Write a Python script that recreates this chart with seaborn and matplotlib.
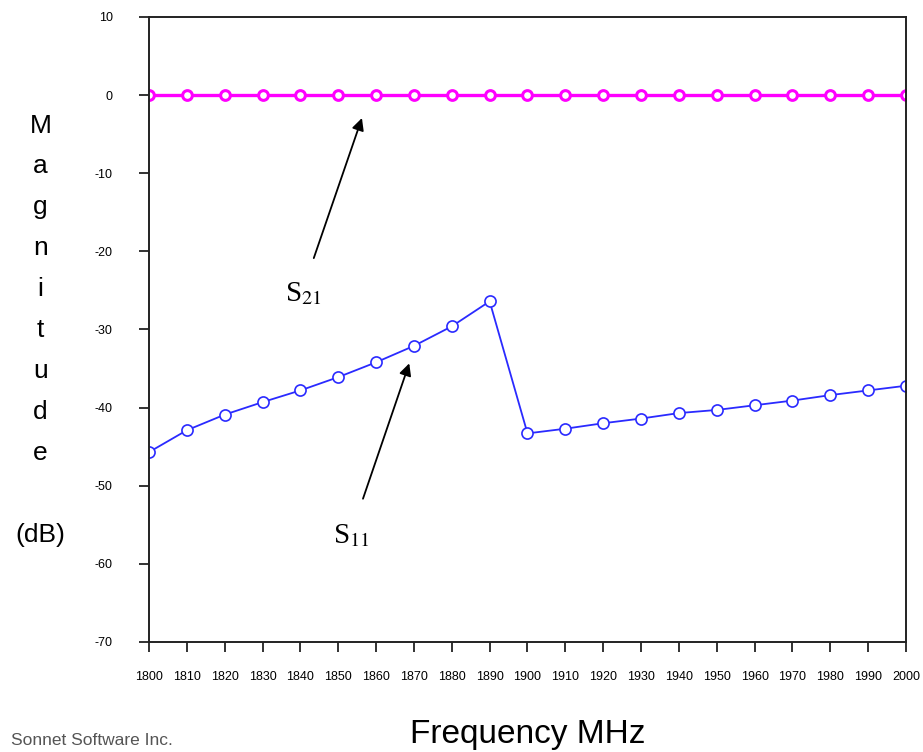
import pandas as pd
import matplotlib.pyplot as plt
import seaborn as sns

# frequency sweep (MHz)
freq = [1800, 1810, 1820, 1830, 1840, 1850, 1860, 1870, 1880, 1890, 1900,
        1910, 1920, 1930, 1940, 1950, 1960, 1970, 1980, 1990, 2000]

# S11 magnitude (dB)
s11 = [-45.7, -42.9, -40.9, -39.3, -37.8, -36.1, -34.2, -32.1, -29.6, -26.4, -43.3,
       -42.7, -42.0, -41.4, -40.7, -40.3, -39.7, -39.1, -38.4, -37.8, -37.2]

# S21 magnitude (dB)
s21 = [0.0, 0.0, 0.0, 0.0, 0.0, 0.0, 0.0, 0.0, 0.0, 0.0, 0.0,
       0.0, 0.0, 0.0, 0.0, 0.0, 0.0, 0.0, 0.0, 0.0, 0.0]

yticks = [10, 0, -10, -20, -30, -40, -50, -60, -70]

df = pd.DataFrame({"freq": freq, "S11": s11, "S21": s21})

sns.set_style("white")
plt.rcParams["font.family"] = ["Liberation Sans", "DejaVu Sans"]
plt.rcParams["mathtext.fontset"] = "stix"
plt.rcParams["text.color"] = "black"

fig = plt.figure(figsize=(9.23, 7.52), dpi=100)
ax = fig.add_axes([0.1614, 0.1463, 0.8202, 0.8311])

sns.lineplot(data=df, x="freq", y="S21", ax=ax, color="#ff00ff", linewidth=2.4,
             marker="o", markersize=7, markerfacecolor="white",
             markeredgecolor="#ff00ff", markeredgewidth=2.2)
sns.lineplot(data=df, x="freq", y="S11", ax=ax, color="#2a2aff", linewidth=1.3,
             marker="o", markersize=8, markerfacecolor="white",
             markeredgecolor="#2a2aff", markeredgewidth=1.2)

ax.set_xlim(1800, 2000)
ax.set_ylim(-70, 10)
ax.set_xticks(freq)
ax.set_xticklabels([str(f) for f in freq], fontsize=9)
ax.set_yticks(yticks)
ax.set_yticklabels([str(t) for t in yticks], fontsize=9)
ax.set_xlabel("")
ax.set_ylabel("")
ax.tick_params(axis="both", direction="out", length=7, width=1.3, color="#222222",
               labelcolor="black", bottom=True, left=True)
ax.tick_params(axis="y", pad=19)
ax.tick_params(axis="x", pad=14)
for sp in ax.spines.values():
    sp.set_color("#222222")
    sp.set_linewidth(1.4)

# arrows with labels
arrow = dict(arrowstyle="-|>", color="black", lw=1.3, mutation_scale=18)
ax.annotate("", xy=(1856.5, -2.6), xytext=(1843.3, -21.2), arrowprops=arrow)
ax.annotate("", xy=(1869.0, -34.0), xytext=(1856.3, -52.0), arrowprops=arrow)
ax.text(1835.9, -26.4, r"S$_{21}$", fontsize=21, ha="left", va="baseline",
        family="Liberation Serif")
ax.text(1848.6, -57.3, r"S$_{11}$", fontsize=21, ha="left", va="baseline",
        family="Liberation Serif")

# stacked vertical axis title
fig.text(0.044, 0.849, "M\na\ng\nn\ni\nt\nu\nd\ne\n\n(dB)", fontsize=19,
         ha="center", va="top", linespacing=1.89)
fig.text(0.5715, 0.012, "Frequency MHz", fontsize=24, ha="center", va="baseline")
fig.text(0.012, 0.009, "Sonnet Software Inc.", fontsize=12.5, color="#555555",
         ha="left", va="baseline")

fig.savefig("out.png", dpi=100)
